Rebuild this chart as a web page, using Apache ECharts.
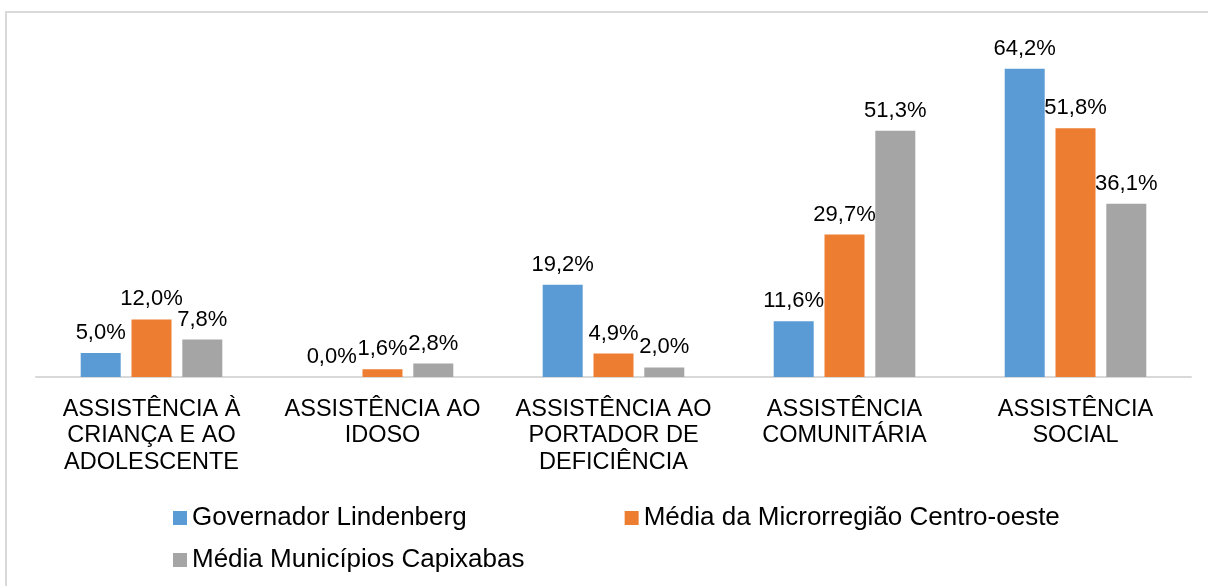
<!DOCTYPE html>
<html>
<head>
<meta charset="utf-8">
<script src="https://cdn.jsdelivr.net/npm/echarts@6/dist/echarts.min.js"></script>
<style>
html,body{margin:0;padding:0;background:#fff;overflow:hidden;}
#frame{position:absolute;left:5px;top:11px;width:1400px;height:800px;border:2px solid #D9D9D9;box-sizing:border-box;}
#chart{position:absolute;left:0;top:0;width:1208px;height:586px;}
</style>
</head>
<body>
<div id="frame"></div>
<div id="chart"></div>
<script>
const categories = [
  "ASSISTÊNCIA À\nCRIANÇA E AO\nADOLESCENTE",
  "ASSISTÊNCIA AO\nIDOSO",
  "ASSISTÊNCIA AO\nPORTADOR DE\nDEFICIÊNCIA",
  "ASSISTÊNCIA\nCOMUNITÁRIA",
  "ASSISTÊNCIA\nSOCIAL"
];
const seriesNames = ["Governador Lindenberg", "Média da Microrregião Centro-oeste", "Média Municípios Capixabas"];
const governador = [5.0, 0.0, 19.2, 11.6, 64.2];
const microrregiao = [12.0, 1.6, 4.9, 29.7, 51.8];
const capixabas = [7.8, 2.8, 2.0, 51.3, 36.1];
const colors = ["#5B9BD5", "#ED7D31", "#A5A5A5"];

const font = "'Liberation Sans', Arial, sans-serif";
const fmt = p => p.value.toFixed(1).replace('.', ',') + '%';

function mk(name, data, color) {
  return {
    name: name, type: 'bar', data: data,
    barWidth: 40, barGap: '27%',
    itemStyle: { color: color },
    label: { show: true, position: 'top', distance: 9, formatter: fmt,
      color: '#000', fontSize: 22, fontFamily: font },
    emphasis: { disabled: true }
  };
}

const chart = echarts.init(document.getElementById('chart'), null, { renderer: 'canvas' });
chart.setOption({
  backgroundColor: 'transparent',
  animation: false,
  color: colors,
  grid: { left: 36, right: 17, top: 41, bottom: 209, containLabel: false },
  xAxis: {
    type: 'category', data: categories,
    axisLine: { show: true, lineStyle: { color: '#D9D9D9', width: 2 } },
    axisTick: { show: false },
    axisLabel: { color: '#000', fontSize: 23.5, fontFamily: font, lineHeight: 26.5, margin: 19, interval: 0 }
  },
  yAxis: { type: 'value', min: 0, max: 70, show: false, splitLine: { show: false } },
  legend: [
    { data: [seriesNames[0], seriesNames[1]], left: 168, top: 500, itemWidth: 14, itemHeight: 14, itemGap: 158,
      icon: 'rect', textStyle: { color: '#000', fontSize: 26, fontFamily: font }, selectedMode: false },
    { data: [seriesNames[2]], left: 168, top: 542, itemWidth: 14, itemHeight: 14,
      icon: 'rect', textStyle: { color: '#000', fontSize: 26, fontFamily: font }, selectedMode: false }
  ],
  series: [
    mk(seriesNames[0], governador, colors[0]),
    mk(seriesNames[1], microrregiao, colors[1]),
    mk(seriesNames[2], capixabas, colors[2])
  ]
});
</script>
</body>
</html>
